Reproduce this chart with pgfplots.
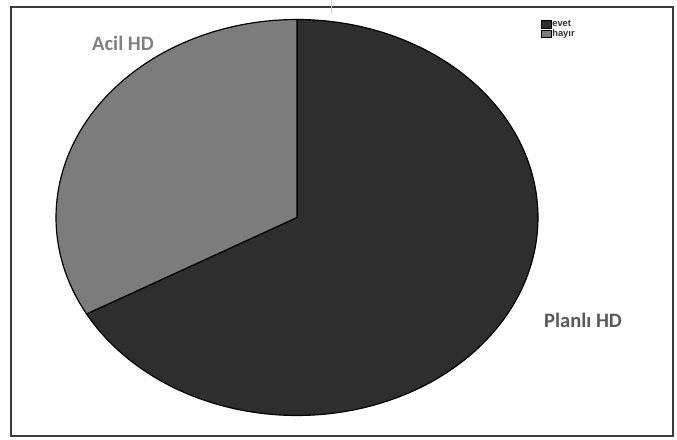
\documentclass[border=0pt]{standalone}
\usepackage{pgfplots}
\pgfplotsset{compat=1.18}
\usepackage{fontspec}
\setmainfont{Carlito}
\setsansfont{Liberation Sans}
\definecolor{darkslice}{HTML}{2E2E2E}
\definecolor{greyslice}{HTML}{7C7C7C}
\definecolor{framec}{HTML}{3A3A3A}
% slice shares (percent): evet = Planli HD, hayir = Acil HD
\def\evetval{66.9}
\def\hayirval{33.1}
\begin{document}
\begin{tikzpicture}
\pgfmathsetmacro{\splitang}{90-3.6*\evetval}
\pgfmathsetmacro{\splitangb}{\splitang+360}
\begin{axis}[
  x=0.03cm, y=0.03cm,
  xmin=0, xmax=677, ymin=0, ymax=439,
  hide axis, clip=false,
  legend style={at={(axis cs:541,420)}, anchor=north west, draw=none, fill=none,
    inner sep=0pt, outer sep=0pt, row sep=0.2pt,
    font=\fontsize{8}{8.5}\selectfont\bfseries\sffamily,
    nodes={inner sep=0.6pt, text=black!80}},
  legend cell align=left,
  legend image code/.code={\draw[#1, draw=black, line width=0.5pt] (0cm,-0.11cm) rectangle (0.3cm,0.11cm);},
]
\fill[white] (axis cs:0,0) rectangle (axis cs:677,439);
\addplot[fill=darkslice, draw=black, line width=1pt, domain=90:\splitang, samples=150, variable=\t]
  ({297+241*cos(t)}, {222+198*sin(t)}) -- (axis cs:297,222) -- cycle;
\addlegendentry{evet}
\addplot[fill=greyslice, draw=black, line width=1pt, domain=90:\splitangb, samples=100, variable=\t]
  ({297+241*cos(t)}, {222+198*sin(t)}) -- (axis cs:297,222) -- cycle;
\addlegendentry{hayır}
\draw[framec, line width=0.06cm] (axis cs:11,3) rectangle (axis cs:673,432);
\draw[black!20, line width=0.03cm] (axis cs:331,439) -- (axis cs:331,425);
\node[anchor=base west, inner sep=0pt, text=black!50, font=\fontsize{17.5}{20}\selectfont\bfseries] at (axis cs:92,389) {Acil HD};
\node[anchor=base west, inner sep=0pt, text=black!65, font=\fontsize{17.5}{20}\selectfont\bfseries] at (axis cs:544,112) {Planlı HD};
\end{axis}
\end{tikzpicture}
\end{document}
